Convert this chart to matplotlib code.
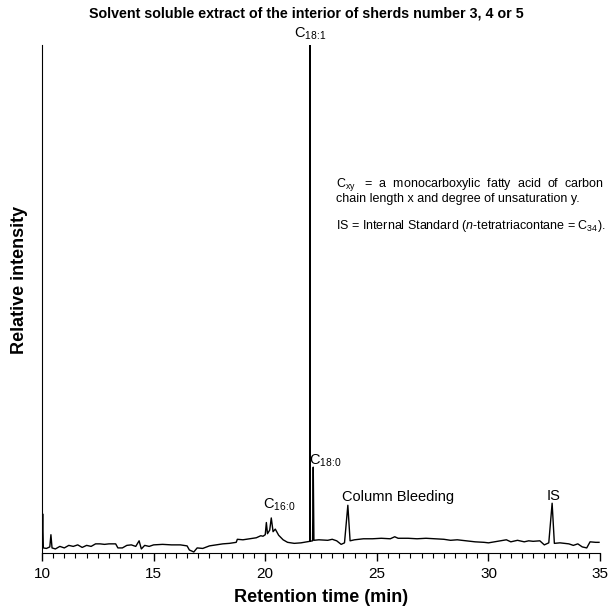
import matplotlib
matplotlib.use("Agg")
import matplotlib.pyplot as plt
from matplotlib.ticker import MultipleLocator

plt.rcParams['font.family'] = ['Liberation Sans', 'DejaVu Sans']
plt.rcParams['mathtext.fontset'] = 'custom'
plt.rcParams['mathtext.rm'] = 'Liberation Sans'
plt.rcParams['mathtext.it'] = 'Liberation Sans:italic'

# retention time (min) and relative intensity
rt = [10.00, 10.03, 10.06, 10.2, 10.35, 10.4, 10.45, 10.6, 10.8, 11.0,
      11.2, 11.4, 11.6, 11.8, 12.0, 12.2, 12.4, 12.6, 12.8, 13.0,
      13.3, 13.4, 13.6, 13.8, 14.0, 14.2, 14.35, 14.45, 14.6, 14.8,
      15.0, 15.4, 15.8, 16.2, 16.5, 16.6, 16.8, 16.95, 17.2, 17.5,
      17.8, 18.1, 18.4, 18.7, 18.75, 19.0, 19.3, 19.6, 19.8, 19.9,
      20.0, 20.05, 20.1, 20.2, 20.27, 20.35, 20.45, 20.6, 20.8, 21.0,
      21.3, 21.6, 21.999, 22.0, 22.001, 22.12, 22.15, 22.18, 22.4, 22.8,
      23.0, 23.2, 23.4, 23.55, 23.7, 23.8, 24.0, 24.4, 24.8, 25.2,
      25.6, 25.8, 25.95, 26.4, 26.8, 27.2, 27.6, 28.0, 28.3, 28.6,
      29.0, 29.4, 29.8, 30.0, 30.4, 30.8, 31.0, 31.3, 31.6, 31.8,
      32.0, 32.3, 32.5, 32.7, 32.85, 32.95, 33.2, 33.6, 33.8, 34.0,
      34.2, 34.4, 34.55, 34.8, 34.95]
intensity = [1.2, 7.7, 1.0, 0.9, 1.2, 3.6, 1.0, 0.8, 1.3, 1.0,
             1.5, 1.3, 1.6, 1.1, 1.5, 1.3, 1.8, 1.8, 1.7, 1.8,
             1.8, 1.0, 1.0, 1.5, 1.6, 1.3, 2.4, 0.8, 1.5, 1.3,
             1.6, 1.7, 1.6, 1.6, 1.4, 0.6, 0.2, 1.0, 0.9, 1.4,
             1.6, 1.8, 1.9, 2.1, 2.7, 2.6, 2.8, 3.0, 3.4, 3.3,
             3.6, 6.0, 3.8, 4.5, 6.9, 4.2, 4.7, 3.5, 2.6, 2.1,
             1.9, 2.0, 2.3, 100.0, 2.3, 2.4, 16.9, 2.5, 2.6, 2.5,
             2.7, 2.4, 1.7, 2.0, 9.4, 2.4, 2.6, 2.8, 2.8, 2.9,
             2.8, 3.2, 2.9, 2.9, 2.8, 2.9, 2.8, 2.7, 2.5, 2.6,
             2.4, 2.2, 2.1, 2.0, 2.3, 2.6, 2.2, 2.5, 2.2, 2.4,
             2.3, 2.4, 1.6, 2.0, 9.8, 1.9, 2.0, 1.8, 1.5, 1.8,
             1.2, 1.0, 2.2, 2.1, 2.1]

fig = plt.figure(figsize=(6.13, 6.12), dpi=100)
ax = fig.add_axes([0.0685, 0.0964, 0.9105, 0.830])

ax.plot(rt, intensity, color="black", linewidth=1.0)

ax.set_xlim(10, 35)
ax.set_ylim(0, 100)
ax.spines['top'].set_visible(False)
ax.spines['right'].set_visible(False)
ax.set_yticks([])
ax.xaxis.set_major_locator(MultipleLocator(5))
ax.xaxis.set_minor_locator(MultipleLocator(0.5))
ax.tick_params(axis='x', which='major', length=6, width=1, labelsize=11, pad=4)
ax.tick_params(axis='x', which='minor', length=3.5, width=0.8)

ax.set_xlabel("Retention time (min)", fontsize=13, fontweight='bold', labelpad=6)
ax.set_ylabel("Relative intensity", fontsize=13, fontweight='bold')
ax.yaxis.set_label_coords(-0.025, 0.537)
fig.text(0.5, 1 - 14 / 612,
         "Solvent soluble extract of the interior of sherds number 3, 4 or 5",
         ha='center', va='center', fontsize=10.3, fontweight='bold')

# peak labels
ax.text(22.0, 100.6, r"C$_{18\!:\!1}$", ha='center', va='bottom', fontsize=10.5, clip_on=False)
ax.text(21.95, 16.6, r"C$_{18\!:\!0}$", ha='left', va='bottom', fontsize=10.5)
ax.text(19.9, 7.8, r"C$_{16\!:\!0}$", ha='left', va='bottom', fontsize=10.5)
ax.text(23.45, 9.6, "Column Bleeding", ha='left', va='bottom', fontsize=10.5)
ax.text(32.9, 9.9, "IS", ha='center', va='bottom', fontsize=10.5)

# legend note
ax.text(0.527, 0.742,
        "C$_{\\mathrm{xy}}$   =  a  monocarboxylic  fatty  acid  of  carbon\n"
        "chain length x and degree of unsaturation y.",
        transform=ax.transAxes, ha='left', va='top', fontsize=9, linespacing=1.0)
ax.text(0.527, 0.659,
        "IS = Internal Standard ($\\it{n}$-tetratriacontane = C$_{34}$).",
        transform=ax.transAxes, ha='left', va='top', fontsize=9)

fig.savefig("out.png", dpi=100)
